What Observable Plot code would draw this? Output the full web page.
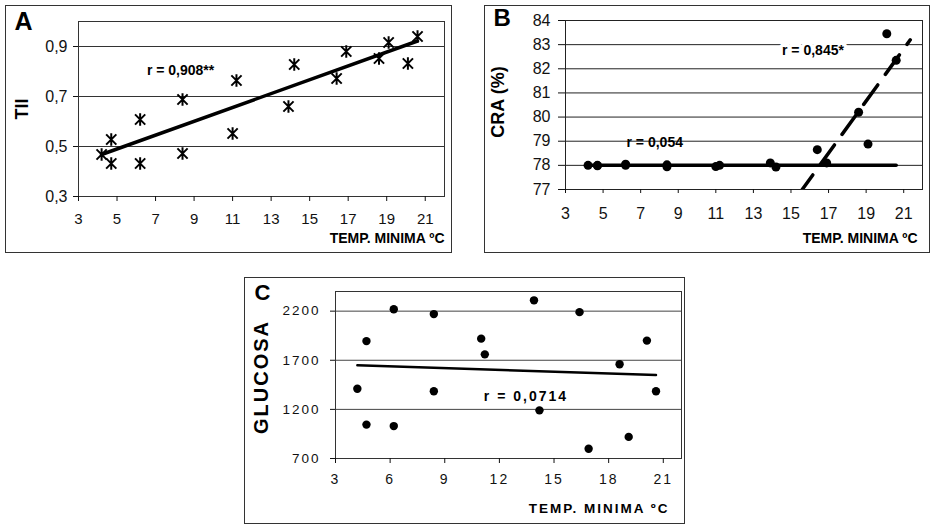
<!DOCTYPE html>
<html><head><meta charset="utf-8">
<script src="https://cdn.jsdelivr.net/npm/d3@7"></script>
<script src="https://cdn.jsdelivr.net/npm/@observablehq/plot@0.6"></script>
<style>
body{margin:0;background:#fff;}
#wrap{position:relative;width:937px;height:527px;overflow:hidden;background:#fff;}
.panel{position:absolute;}
.panel svg{display:block;}
.box{position:absolute;border:1.5px solid #333;box-sizing:border-box;pointer-events:none;}
#pc svg text{letter-spacing:2px;}
</style></head><body><div id="wrap"></div>
<script>
// ---- data ----
const temp = [4.2,4.7,4.7,6.2,6.2,8.4,8.4,11.0,11.2,13.9,14.2,16.4,16.9,18.6,19.1,20.1,20.6];
const tii = [0.468,0.528,0.432,0.608,0.432,0.688,0.472,0.552,0.764,0.660,0.828,0.772,0.880,0.852,0.916,0.832,0.940];
const cra = [78.0,78.0,77.98,78.05,78.0,78.02,77.94,77.95,78.0,78.1,77.93,78.65,78.1,80.2,78.88,83.45,82.35];
const glucosa = [1410,1895,1045,2220,1030,2170,1385,1920,1760,2310,1190,2190,800,1660,920,1900,1385];

// trend lines (endpoints)
const trendA_x = [4.2, 20.6], trendA_y = [0.468, 0.922];
const trendB1_x = [4.2, 20.6], trendB1_y = [78.0, 78.0];
const trendB2_x = [15.6, 21.35], trendB2_y = [77.0, 83.2];
const trendC_x = [4.2, 20.6], trendC_y = [1650, 1550];

// ticks
const xTicksAB = [3,5,7,9,11,13,15,17,19,21];
const yTicksA = [0.3,0.5,0.7,0.9];
const yTicksB = [77,78,79,80,81,82,83,84];
const xTicksC = [3,6,9,12,15,18,21];
const yTicksC = [700,1200,1700,2200];

// texts
const xTitle = "TEMP. MINIMA ºC";
const yTitles = ["TII", "CRA (%)", "GLUCOSA"];
const panelLetters = ["A", "B", "C"];
const rLabels = [
  {panel:"A", x:8.3, y:0.804, text:"r = 0,908**"},
  {panel:"B1", x:7.75, y:78.96, text:"r = 0,054"},
  {panel:"B2", x:16.17, y:82.76, text:"r = 0,845*"},
  {panel:"C", x:13.46, y:1332, text:"r = 0,0714"}
];

const FONT = "'Liberation Sans', Arial, Helvetica, sans-serif";
const comma = d => d.toFixed(1).replace(".", ",");
const plain = d => String(d);
const pts = vals => temp.map((t,i) => ({x:t, y:vals[i]}));
const seg = (xs, ys) => xs.map((x,i) => ({x, y:ys[i]}));
const wrap = document.getElementById("wrap");

// Excel-style star marker: an X with a vertical bar
const starMarker = {
  draw(context, size) {
    const r = Math.sqrt(size / Math.PI);
    const a = r * 0.85;
    context.moveTo(-a, -a); context.lineTo(a, a);
    context.moveTo(a, -a); context.lineTo(-a, a);
    context.moveTo(0, -r * 1.05); context.lineTo(0, r * 1.05);
  }
};

function place(id, left, top, w, h, svg) {
  const box = document.createElement("div");
  box.className = "box";
  Object.assign(box.style, {left:left+"px", top:top+"px", width:w+"px", height:h+"px"});
  const p = document.createElement("div");
  p.className = "panel"; p.id = id;
  Object.assign(p.style, {left:left+"px", top:top+"px"});
  p.appendChild(svg);
  wrap.appendChild(p);
  wrap.appendChild(box);
}

// ---- Panel A ----
const plotA = Plot.plot({
  width: 447, height: 248,
  marginLeft: 73, marginTop: 16, marginRight: 8, marginBottom: 57,
  x: {domain: [3, 22]}, y: {domain: [0.3, 1.0]},
  style: {fontFamily: FONT, background: "transparent", color: "#111", overflow: "visible"},
  marks: [
    Plot.gridY(yTicksA, {stroke: "#333", strokeOpacity: 1}),
    Plot.frame({stroke: "#333"}),
    Plot.axisY(yTicksA, {tickFormat: comma, fontSize: 16, tickSize: 5, tickPadding: 6, label: null}),
    Plot.axisX(xTicksAB, {fontSize: 15, tickSize: 5, tickPadding: 12, label: null}),
    Plot.line(seg(trendA_x, trendA_y), {x: "x", y: "y", stroke: "#000", strokeWidth: 3.5}),
    Plot.dot(pts(tii), {x: "x", y: "y", symbol: starMarker, r: 6, stroke: "#000", strokeWidth: 2, fill: "none"}),
    Plot.text(rLabels.filter(d => d.panel === "A"), {x: "x", y: "y", text: "text", fontSize: 14, fontWeight: "bold", fill: "#000"}),
    Plot.text([xTitle], {frameAnchor: "bottom-right", textAnchor: "end", lineAnchor: "middle", dy: 42, fontSize: 14, fontWeight: "bold", fill: "#000"}),
    Plot.text([yTitles[0]], {frameAnchor: "left", rotate: -90, textAnchor: "middle", lineAnchor: "middle", dx: -56, fontSize: 18, fontWeight: "bold", fill: "#000"}),
    Plot.text([panelLetters[0]], {frameAnchor: "top-left", textAnchor: "start", lineAnchor: "middle", dx: -64, dy: 0, fontSize: 25, fontWeight: "bold", fill: "#000"})
  ]
});
place("pa", 5, 5, 447, 248, plotA);

// ---- Panel B ----
const plotB = Plot.plot({
  width: 446, height: 248,
  marginLeft: 81, marginTop: 15, marginRight: 8, marginBottom: 64,
  x: {domain: [3, 22]}, y: {domain: [77, 84]},
  style: {fontFamily: FONT, background: "transparent", color: "#111", overflow: "visible"},
  marks: [
    Plot.gridY(yTicksB, {stroke: "#222", strokeOpacity: 1}),
    Plot.frame({stroke: "#222"}),
    Plot.axisY(yTicksB, {fontSize: 16, tickSize: 7, tickPadding: 8, label: null}),
    Plot.axisX(xTicksAB, {fontSize: 16, tickSize: 4, tickPadding: 14, label: null}),
    Plot.text(rLabels.filter(d => d.panel === "B1"), {x: "x", y: "y", text: "text", fontSize: 14, fontWeight: "bold", fill: "#000"}),
    Plot.line(seg(trendB1_x, trendB1_y), {x: "x", y: "y", stroke: "#000", strokeWidth: 3.5}),
    Plot.line(seg(trendB2_x, trendB2_y), {x: "x", y: "y", stroke: "#000", strokeWidth: 3.5, strokeDasharray: "24,13", strokeDashoffset: 6, clip: true}),
    Plot.dot(pts(cra), {x: "x", y: "y", r: 4.5, fill: "#000"}),
    Plot.text(rLabels.filter(d => d.panel === "B2"), {x: "x", y: "y", text: "text", fontSize: 14, fontWeight: "bold", fill: "#000", stroke: "white", strokeWidth: 7}),
    Plot.text([xTitle], {frameAnchor: "bottom-right", textAnchor: "end", lineAnchor: "middle", dx: -5, dy: 49, fontSize: 14, fontWeight: "bold", fill: "#000"}),
    Plot.text([yTitles[1]], {frameAnchor: "left", rotate: -90, textAnchor: "middle", lineAnchor: "middle", dx: -67, dy: -3, fontSize: 18, fontWeight: "bold", fill: "#000"}),
    Plot.text([panelLetters[1]], {frameAnchor: "top-left", textAnchor: "start", lineAnchor: "middle", dx: -72, dy: -2, fontSize: 24, fontWeight: "bold", fill: "#000"})
  ]
});
place("pb", 484, 5, 446, 248, plotB);

// ---- Panel C ----
const plotC = Plot.plot({
  width: 441, height: 247,
  marginLeft: 91, marginTop: 14, marginRight: 4, marginBottom: 66,
  x: {domain: [3, 22]}, y: {domain: [700, 2400]},
  style: {fontFamily: FONT, background: "transparent", color: "#111", overflow: "visible"},
  marks: [
    Plot.gridY(yTicksC, {stroke: "#444", strokeOpacity: 1}),
    Plot.frame({stroke: "#333"}),
    Plot.axisY(yTicksC, {tickFormat: plain, fontSize: 13.5, tickSize: 5, tickPadding: 10, label: null}),
    Plot.axisX(xTicksC, {tickFormat: plain, fontSize: 14, tickSize: 5, tickPadding: 11, label: null}),
    Plot.line(seg(trendC_x, trendC_y), {x: "x", y: "y", stroke: "#000", strokeWidth: 2.5}),
    Plot.dot(pts(glucosa), {x: "x", y: "y", r: 4.2, fill: "#000"}),
    Plot.text(rLabels.filter(d => d.panel === "C"), {x: "x", y: "y", text: "text", fontSize: 14, fontWeight: "bold", fill: "#000"}),
    Plot.text([xTitle], {frameAnchor: "bottom-right", textAnchor: "end", lineAnchor: "middle", dx: -12, dy: 50, fontSize: 13.5, fontWeight: "bold", fill: "#000", style: "letter-spacing:1px"}),
    Plot.text([yTitles[2]], {frameAnchor: "left", rotate: -90, textAnchor: "middle", lineAnchor: "middle", dx: -74, dy: 2, fontSize: 20, fontWeight: "bold", fill: "#000"}),
    Plot.text([panelLetters[2]], {frameAnchor: "top-left", textAnchor: "start", lineAnchor: "middle", dx: -81, dy: 1, fontSize: 22, fontWeight: "bold", fill: "#000"})
  ]
});
place("pc", 244, 277, 441, 247, plotC);
</script></body></html>
